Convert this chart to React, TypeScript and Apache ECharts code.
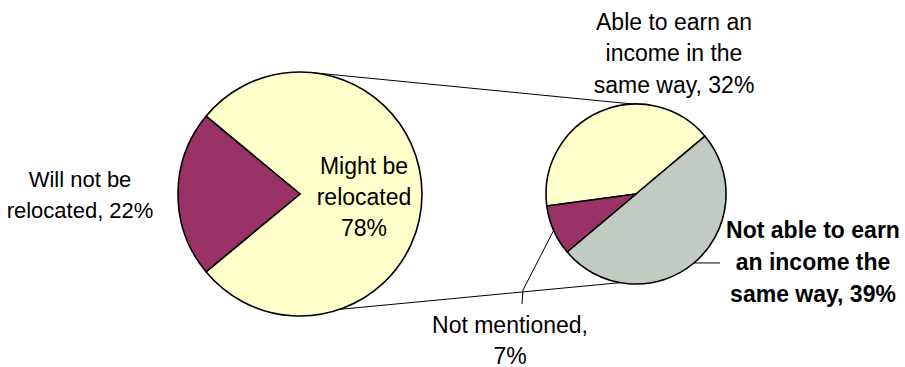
import React, { useEffect, useRef } from 'react';
import * as echarts from 'echarts';

const mainCategories = ['Might be relocated', 'Will not be relocated'];
const mainValues = [78, 22];
const subCategories = ['Able to earn an income in the same way', 'Not able to earn an income the same way', 'Not mentioned'];
const subValues = [32, 39, 7];
const mainColors = ['#FFFFCC', '#993366'];
const subColors = ['#FFFFCC', '#C2CBC2', '#993366'];

const FONT = '"Liberation Sans", Arial, sans-serif';
const FS = 23;

export default function App() {
  const ref = useRef<HTMLDivElement>(null);
  useEffect(() => {
    if (!ref.current) return;
    const chart = echarts.init(ref.current, null, { renderer: 'svg' });
    const mainC = [300, 194];
    const mainR = 122;
    const subC = [636, 194];
    const subR = 90;
    const mainTotal = mainValues.reduce((a, b) => a + b, 0);
    const subTotal = subValues.reduce((a, b) => a + b, 0);
    // main pie: "Will not be relocated" slice centred on the left (180deg)
    const mainStart = 180 - (mainValues[1] / mainTotal) * 360 / 2;
    // sub pie: gray slice begins at 40deg
    const subStart = 40 + (subValues[0] / subTotal) * 360;
    const pt = (c: number[], r: number, deg: number) => {
      const a = (deg * Math.PI) / 180;
      return [c[0] + r * Math.cos(a), c[1] - r * Math.sin(a)];
    };
    const subMid = (i: number) => {
      let acc = 0;
      for (let k = 0; k < i; k++) acc += subValues[k];
      return subStart - ((acc + subValues[i] / 2) / subTotal) * 360;
    };
    const pm = pt(subC, subR, subMid(2));
    const pg = pt(subC, subR, subMid(1));
    const lineStyle = { stroke: '#000', lineWidth: 1 };
    const txt = (x: number, y: number, text: string, opts: any = {}) => {
      const fs = opts.fs || FS;
      return {
        type: 'text',
        x,
        y,
        z: 10,
        style: {
          text,
          fill: '#000',
          font: `${opts.bold ? 'bold ' : ''}${fs}px ${FONT}`,
          fontSize: fs,
          fontFamily: FONT,
          fontWeight: opts.bold ? 'bold' : 'normal',
          lineHeight: opts.lh || 31,
          align: opts.align || 'center',
          verticalAlign: 'middle',
        },
      };
    };
    chart.setOption({
      animation: false,
      backgroundColor: '#fff',
      series: [
        {
          type: 'pie',
          center: mainC,
          radius: mainR,
          startAngle: mainStart,
          clockwise: true,
          silent: true,
          itemStyle: { borderColor: '#000', borderWidth: 1.6 },
          label: {
            show: true,
            position: 'inside',
            color: '#000',
            fontFamily: FONT,
            fontSize: FS,
            lineHeight: 31,
            offset: [0, 3],
            formatter: (p: any) => (p.dataIndex === 0 ? 'Might be\nrelocated\n' + p.value + '%' : ''),
          },
          labelLine: { show: false },
          data: mainCategories.map((n, i) => ({ name: n, value: mainValues[i], itemStyle: { color: mainColors[i] } })),
        },
        {
          type: 'pie',
          center: subC,
          radius: subR,
          startAngle: subStart,
          clockwise: true,
          silent: true,
          itemStyle: { borderColor: '#000', borderWidth: 1.6 },
          label: { show: false },
          labelLine: { show: false },
          data: subCategories.map((n, i) => ({ name: n, value: subValues[i], itemStyle: { color: subColors[i] } })),
        },
      ],
      graphic: [
        { type: 'line', z: 5, shape: { x1: pt(mainC, mainR, 84)[0], y1: pt(mainC, mainR, 84)[1], x2: pt(subC, subR, 92)[0], y2: pt(subC, subR, 92)[1] }, style: lineStyle },
        { type: 'line', z: 5, shape: { x1: pt(mainC, mainR, -71)[0], y1: pt(mainC, mainR, -71)[1], x2: pt(subC, subR, -100)[0], y2: pt(subC, subR, -100)[1] }, style: lineStyle },
        { type: 'polyline', z: 5, shape: { points: [pm, [523, 290], [522, 304]] }, style: { ...lineStyle, fill: null } },
        { type: 'line', z: 5, shape: { x1: pg[0], y1: pg[1], x2: 720, y2: pg[1] }, style: lineStyle },
        txt(80, 195, 'Will not be\nrelocated, ' + mainValues[1] + '%', { fs: 22 }),
        txt(674, 53, 'Able to earn an\nincome in the\nsame way, ' + subValues[0] + '%', { lh: 31.5 }),
        txt(813, 262, 'Not able to earn\nan income the\nsame way, ' + subValues[1] + '%', { bold: true, lh: 32 }),
        txt(510, 340, 'Not mentioned,\n' + subValues[2] + '%'),
      ],
    });
    return () => chart.dispose();
  }, []);
  return <div ref={ref} style={{ position: 'absolute', left: 0, top: 0, width: 905, height: 367 }} />;
}
